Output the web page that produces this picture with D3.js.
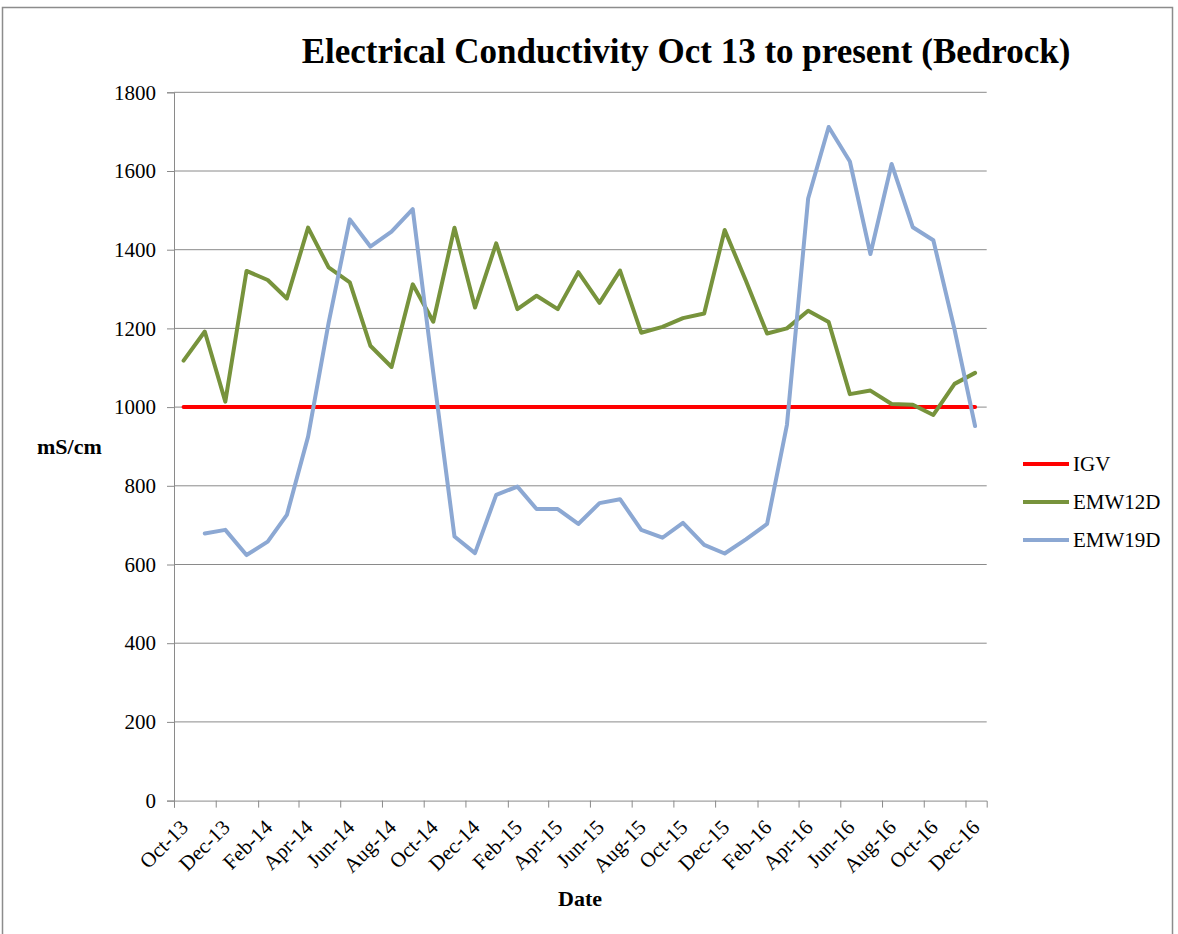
<!DOCTYPE html>
<html>
<head>
<meta charset="utf-8">
<script src="https://cdn.jsdelivr.net/npm/d3@7"></script>
<style>
  body { margin: 0; background: #fff; }
  svg { display: block; }
  svg text { font-family: "Liberation Serif", "Times New Roman", serif; }
</style>
</head>
<body>
<script>
(function() {
    // sample dates (mid month)
    var sampleDates = [
        "2013-10-15", "2013-11-15", "2013-12-15",
        "2014-01-15", "2014-02-15", "2014-03-15", "2014-04-15", "2014-05-15", "2014-06-15",
        "2014-07-15", "2014-08-15", "2014-09-15", "2014-10-15", "2014-11-15", "2014-12-15",
        "2015-01-15", "2015-02-15", "2015-03-15", "2015-04-15", "2015-05-15", "2015-06-15",
        "2015-07-15", "2015-08-15", "2015-09-15", "2015-10-15", "2015-11-15", "2015-12-15",
        "2016-01-15", "2016-02-15", "2016-03-15", "2016-04-15", "2016-05-15", "2016-06-15",
        "2016-07-15", "2016-08-15", "2016-09-15", "2016-10-15", "2016-11-15", "2016-12-15"
    ];

    // series values (mS/cm)
    var igv = [
        1000, 1000, 1000, 1000, 1000, 1000, 1000, 1000, 1000, 1000, 1000, 1000, 1000,
        1000, 1000, 1000, 1000, 1000, 1000, 1000, 1000, 1000, 1000, 1000, 1000, 1000,
        1000, 1000, 1000, 1000, 1000, 1000, 1000, 1000, 1000, 1000, 1000, 1000, 1000
    ];
    var emw12d = [
        1118, 1192, 1014, 1346, 1323, 1276, 1456, 1355, 1317, 1156, 1102, 1312, 1217,
        1456, 1253, 1416, 1249, 1283, 1249, 1343, 1265, 1347, 1189, 1204, 1226, 1238,
        1450, 1321, 1187, 1200, 1245, 1216, 1033, 1042, 1008, 1006, 980, 1059, 1087
    ];
    var emw19d = [
        null, 679, 688, 624, 658, 726, 925, 1214, 1477, 1408, 1446, 1503, 1087,
        671, 629, 777, 798, 741, 741, 703, 756, 766, 688, 668, 706, 650,
        628, 664, 703, 955, 1530, 1712, 1624, 1389, 1618, 1457, 1424, 1197, 952
    ];

    var seriesNames = ["IGV", "EMW12D", "EMW19D"];
    var seriesColors = ["#ff0000", "#77933c", "#8ca8d3"];
    var seriesValues = [igv, emw12d, emw19d];

    // axis labels
    var xTickLabels = [
        "Oct-13", "Dec-13", "Feb-14", "Apr-14", "Jun-14", "Aug-14", "Oct-14",
        "Dec-14", "Feb-15", "Apr-15", "Jun-15", "Aug-15", "Oct-15", "Dec-15",
        "Feb-16", "Apr-16", "Jun-16", "Aug-16", "Oct-16", "Dec-16"
    ];
    var yTicks = [0, 200, 400, 600, 800, 1000, 1200, 1400, 1600, 1800];

    // settings
    var settings = {};
    settings.width = 1178;
    settings.height = 934;
    settings.left = 174;
    settings.right = 986.7;
    settings.top = 92.3;
    settings.bottom = 800.6;
    settings.gridColor = "#8a8a8a";

    var parseDay = d3.utcParse("%Y-%m-%d");
    var parseTick = d3.utcParse("%b-%y");

    var svg = d3.select("body").append("svg")
        .attr("width", settings.width)
        .attr("height", settings.height);

    // outer chart border
    svg.append("rect")
        .attr("x", 2.5)
        .attr("y", 7.5)
        .attr("width", 1170)
        .attr("height", 940)
        .attr("fill", "none")
        .attr("stroke", "#8c8c8c")
        .attr("stroke-width", 1.5);

    var x = d3.scaleUtc()
        .domain([parseDay("2013-10-01"), parseDay("2017-01-01")])
        .range([settings.left, settings.right]);

    var y = d3.scaleLinear()
        .domain([0, 1800])
        .range([settings.bottom, settings.top]);

    // gridlines
    svg.append("g")
        .selectAll("line")
        .data(yTicks.slice(1))
        .enter().append("line")
        .attr("x1", settings.left)
        .attr("x2", settings.right)
        .attr("y1", function(d) { return y(d); })
        .attr("y2", function(d) { return y(d); })
        .attr("stroke", settings.gridColor)
        .attr("stroke-width", 1);

    // y axis
    var yAxis = svg.append("g")
        .attr("transform", "translate(" + settings.left + ",0)")
        .call(d3.axisLeft(y).tickValues(yTicks).tickSize(7).tickPadding(11)
            .tickFormat(d3.format("d")));
    yAxis.attr("font-family", null).attr("font-size", null);
    yAxis.select(".domain").attr("stroke", settings.gridColor);
    yAxis.selectAll(".tick line").attr("stroke", settings.gridColor);
    yAxis.selectAll("text")
        .style("font-family", "'Liberation Serif', serif")
        .style("font-size", "21px")
        .attr("fill", "#000");

    // x axis
    var tickDates = xTickLabels.map(function(s) { return parseTick(s); });
    var xAxis = svg.append("g")
        .attr("transform", "translate(0," + settings.bottom + ")")
        .call(d3.axisBottom(x).tickValues(tickDates).tickSize(7)
            .tickFormat(d3.utcFormat("%b-%y")));
    xAxis.attr("font-family", null).attr("font-size", null);
    xAxis.select(".domain").attr("stroke", settings.gridColor);
    xAxis.selectAll(".tick line").attr("stroke", settings.gridColor);
    xAxis.selectAll("text")
        .style("font-family", "'Liberation Serif', serif")
        .style("font-size", "21px")
        .attr("fill", "#000")
        .attr("text-anchor", "end")
        .attr("dy", null)
        .attr("y", null)
        .attr("transform", "translate(15,28) rotate(-45)");

    // series lines
    var line = d3.line()
        .defined(function(d) { return d.v != null; })
        .x(function(d) { return x(d.date); })
        .y(function(d) { return y(d.v); });

    seriesValues.forEach(function(vals, k) {
        var pts = vals.map(function(v, i) {
            return { date: parseDay(sampleDates[i]), v: v };
        });
        svg.append("path")
            .datum(pts)
            .attr("fill", "none")
            .attr("stroke", seriesColors[k])
            .attr("stroke-width", 4)
            .attr("stroke-linejoin", "round")
            .attr("stroke-linecap", "round")
            .attr("d", line);
    });

    // title
    svg.append("text")
        .attr("x", 686)
        .attr("y", 63)
        .attr("text-anchor", "middle")
        .attr("font-size", 35)
        .attr("font-weight", "bold")
        .text("Electrical Conductivity Oct 13 to present (Bedrock)");

    // axis titles
    svg.append("text")
        .attr("x", 37)
        .attr("y", 454)
        .attr("font-size", 22)
        .attr("font-weight", "bold")
        .text("mS/cm");

    svg.append("text")
        .attr("x", 580)
        .attr("y", 906)
        .attr("text-anchor", "middle")
        .attr("font-size", 22)
        .attr("font-weight", "bold")
        .text("Date");

    // legend
    var legend = svg.append("g")
        .selectAll("g")
        .data(seriesNames)
        .enter().append("g")
        .attr("transform", function(d, i) { return "translate(1023," + (464 + i * 38) + ")"; });
    legend.append("line")
        .attr("x1", 0)
        .attr("x2", 46)
        .attr("stroke", function(d, i) { return seriesColors[i]; })
        .attr("stroke-width", 4);
    legend.append("text")
        .attr("x", 50)
        .attr("y", 7)
        .attr("font-size", 21)
        .text(function(d) { return d; });
})();
</script>
</body>
</html>
